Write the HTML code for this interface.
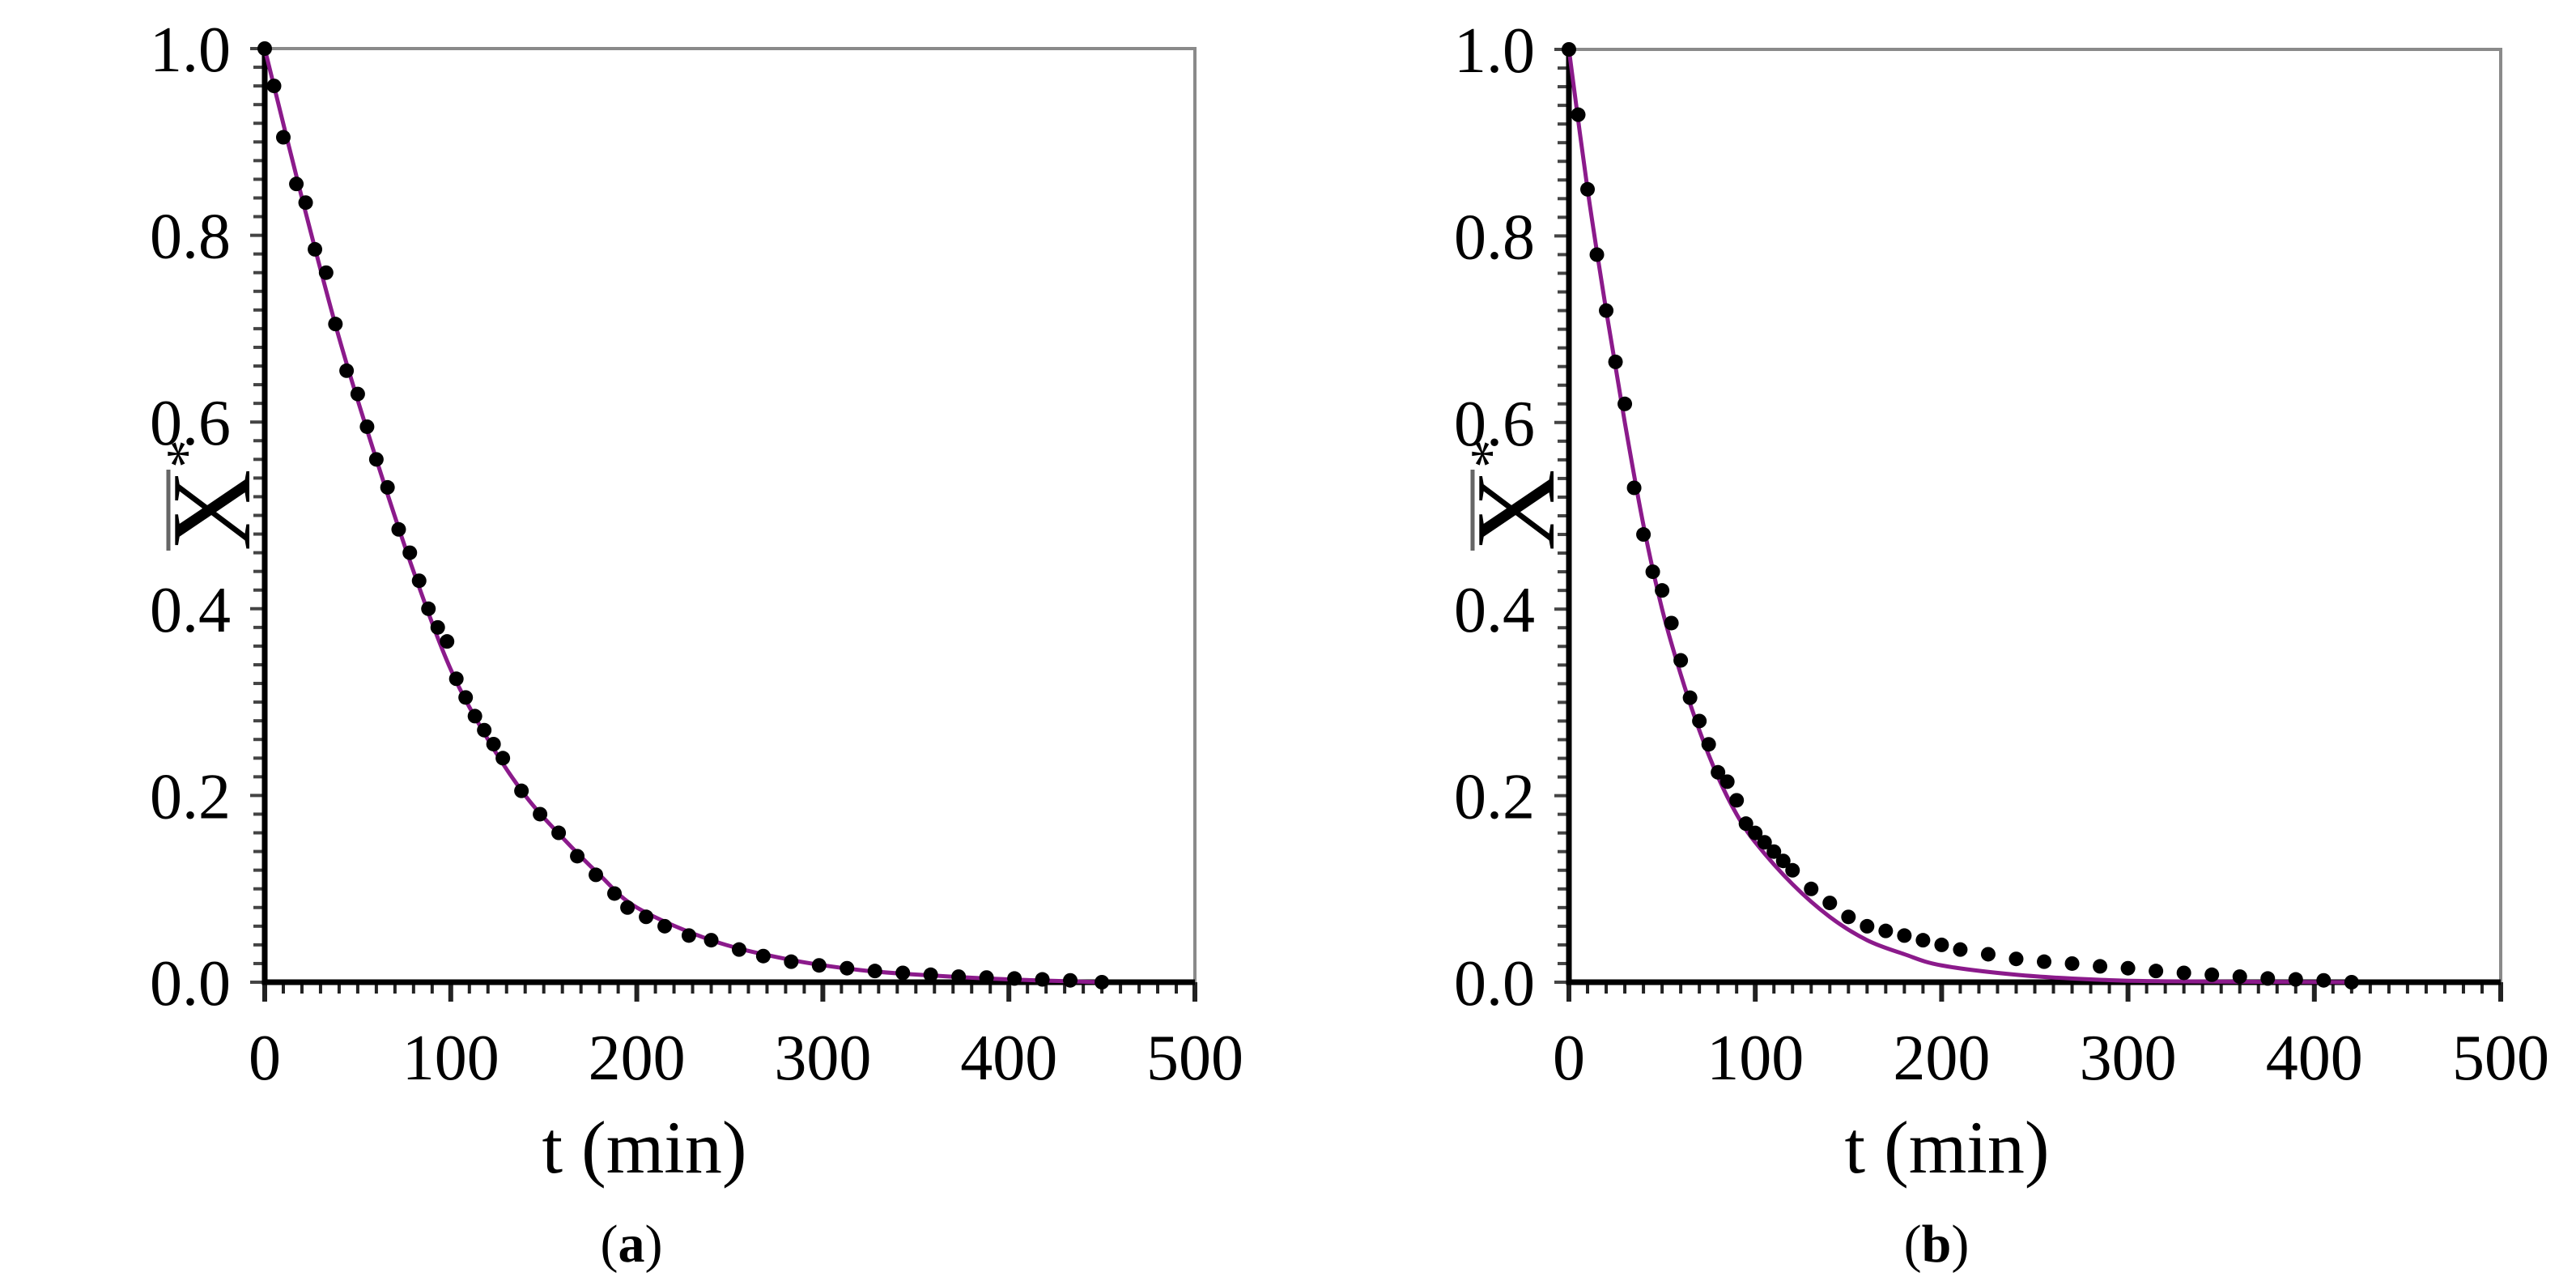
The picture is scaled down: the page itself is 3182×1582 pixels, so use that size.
<!DOCTYPE html>
<html><head><meta charset="utf-8"><style>
html,body{margin:0;padding:0;background:#fff;}
svg{display:block;font-family:"Liberation Serif",serif;}
</style></head><body>
<svg id="chart" width="3182" height="1582" viewBox="0 0 3182 1582" xmlns="http://www.w3.org/2000/svg"></svg>
<script>
const tA=[0,5,10,17,22,27,33,38,44,50,55,60,66,72,78,83,88,93,98,103,108,113,118,123,128,138,148,158,168,178,188,195,205,215,228,240,255,268,283,298,313,328,343,358,373,388,403,418,433,450];
const xA=[1.0,0.96,0.905,0.855,0.835,0.785,0.76,0.705,0.655,0.63,0.595,0.56,0.53,0.485,0.46,0.43,0.40,0.38,0.365,0.325,0.305,0.285,0.27,0.255,0.24,0.205,0.18,0.16,0.135,0.115,0.095,0.08,0.07,0.06,0.05,0.045,0.035,0.028,0.022,0.018,0.015,0.012,0.01,0.008,0.006,0.005,0.004,0.003,0.002,0.0];
const mtA=[0,20,40,60,80,100,120,140,160,180,200,240,280,320,360,400,450];
const mxA=[1,0.84,0.69,0.56,0.44,0.335,0.26,0.2,0.155,0.115,0.08,0.045,0.025,0.013,0.007,0.003,0];
const tB=[0,5,10,15,20,25,30,35,40,45,50,55,60,65,70,75,80,85,90,95,100,105,110,115,120,130,140,150,160,170,180,190,200,210,225,240,255,270,285,300,315,330,345,360,375,390,405,420];
const xB=[1.0,0.93,0.85,0.78,0.72,0.665,0.62,0.53,0.48,0.44,0.42,0.385,0.345,0.305,0.28,0.255,0.225,0.215,0.195,0.17,0.16,0.15,0.14,0.13,0.12,0.1,0.085,0.07,0.06,0.055,0.05,0.045,0.04,0.035,0.03,0.025,0.022,0.02,0.017,0.015,0.012,0.01,0.008,0.006,0.004,0.003,0.002,0.0];
const mtB=[0,10,20,30,40,50,60,70,80,90,100,120,140,160,180,200,240,280,320,420];
const mxB=[1,0.85,0.72,0.6,0.49,0.4,0.33,0.27,0.22,0.18,0.15,0.105,0.07,0.045,0.03,0.018,0.008,0.003,0.001,0];
const xTicks=["0","100","200","300","400","500"];
const yTicks=["0.0","0.2","0.4","0.6","0.8","1.0"];

const NS="http://www.w3.org/2000/svg";
const svg=document.getElementById('chart');
function el(tag,attrs,parent){const e=document.createElementNS(NS,tag);for(const k in attrs)e.setAttribute(k,attrs[k]);(parent||svg).appendChild(e);return e;}
function path(pts){let d="M"+pts[0][0]+","+pts[0][1];for(let i=0;i<pts.length-1;i++){const p0=pts[i-1]||pts[i],p1=pts[i],p2=pts[i+1],p3=pts[i+2]||p2;const c1=[p1[0]+(p2[0]-p0[0])/6,p1[1]+(p2[1]-p0[1])/6],c2=[p2[0]-(p3[0]-p1[0])/6,p2[1]-(p3[1]-p1[1])/6];d+=`C${c1[0]},${c1[1]} ${c2[0]},${c2[1]} ${p2[0]},${p2[1]}`;}return d;}

function panel(id,x0,x1,y0,y1,T,X,MT,MX,letter,letterX,titleX){
  const g=el('g',{});
  
  
  const sx=v=>x0+(x1-x0)*v/500, sy=v=>y0-(y0-y1)*v;
  const fr=el('path',{d:`M${x0},${y1}H${x1}V${y0}`,stroke:'#8a8a8a','stroke-width':4,fill:'none'},g);
  
  
  for(let i=0;i<=50;i++){const x=sx(i*10);const t=el('line',{x1:x,x2:x,y1:y0,y2:y0+(i%10==0?24:14),stroke:'#222','stroke-width':i%10==0?6:4},g);
    
    }
  for(let i=0;i<=50;i++){const y=sy(i/50);const t=el('line',{x1:x0,x2:x0-(i%10==0?18:14),y1:y,y2:y,stroke:'#444','stroke-width':4},g);
    
    }
  const ax=el('path',{d:`M${x0},${y1-6}V${y0}H${x1}`,stroke:'#000','stroke-width':7,fill:'none'},g);
  
  
  xTicks.forEach((s,i)=>{const t=el('text',{x:sx(i*100),y:y0+120,'font-size':80,'text-anchor':'middle'},g);t.textContent=s;
    
    });
  yTicks.forEach((s,i)=>{const t=el('text',{x:x0-42,y:sy(i*0.2)+28,'font-size':80,'text-anchor':'end'},g);t.textContent=s;
    
    });
  const xt=el('text',{x:titleX,y:y0+235,'font-size':92,'text-anchor':'middle'},g);xt.textContent='t (min)';
  
  
  const yg=el('g',{transform:`translate(${x0-19},630) rotate(-90)`},g);
  
  
  const yt=el('text',{x:0,y:0,'font-size':140,'text-anchor':'middle'},yg);yt.textContent='X';
  const ys=el('text',{x:52,y:-55,'font-size':70,'text-anchor':'start'},yg);ys.textContent='*';
  el('line',{x1:-50,x2:50,y1:-100,y2:-100,stroke:'#666','stroke-width':5},yg);
  const lt=el('text',{x:letterX,y:y0+345,'font-size':66,'text-anchor':'middle'},g);
  lt.innerHTML='(<tspan font-weight="bold">'+letter+'</tspan>)';
  
  
  const pts=MT.map((t,i)=>[sx(t),sy(MX[i])]);
  const m=el('path',{d:path(pts),stroke:'#8b1a8b','stroke-width':5,fill:'none'},g);
  
  
  T.forEach((t,i)=>{const c=el('circle',{cx:sx(t),cy:sy(X[i]),r:9,fill:'#000'},g);
    
    });
}
panel('a',327,1476,1213,60,tA,xA,mtA,mxA,'a',780,796);
panel('b',1938,3089,1213,61,tB,xB,mtB,mxB,'b',2392,2405);
</script>
</body></html>
